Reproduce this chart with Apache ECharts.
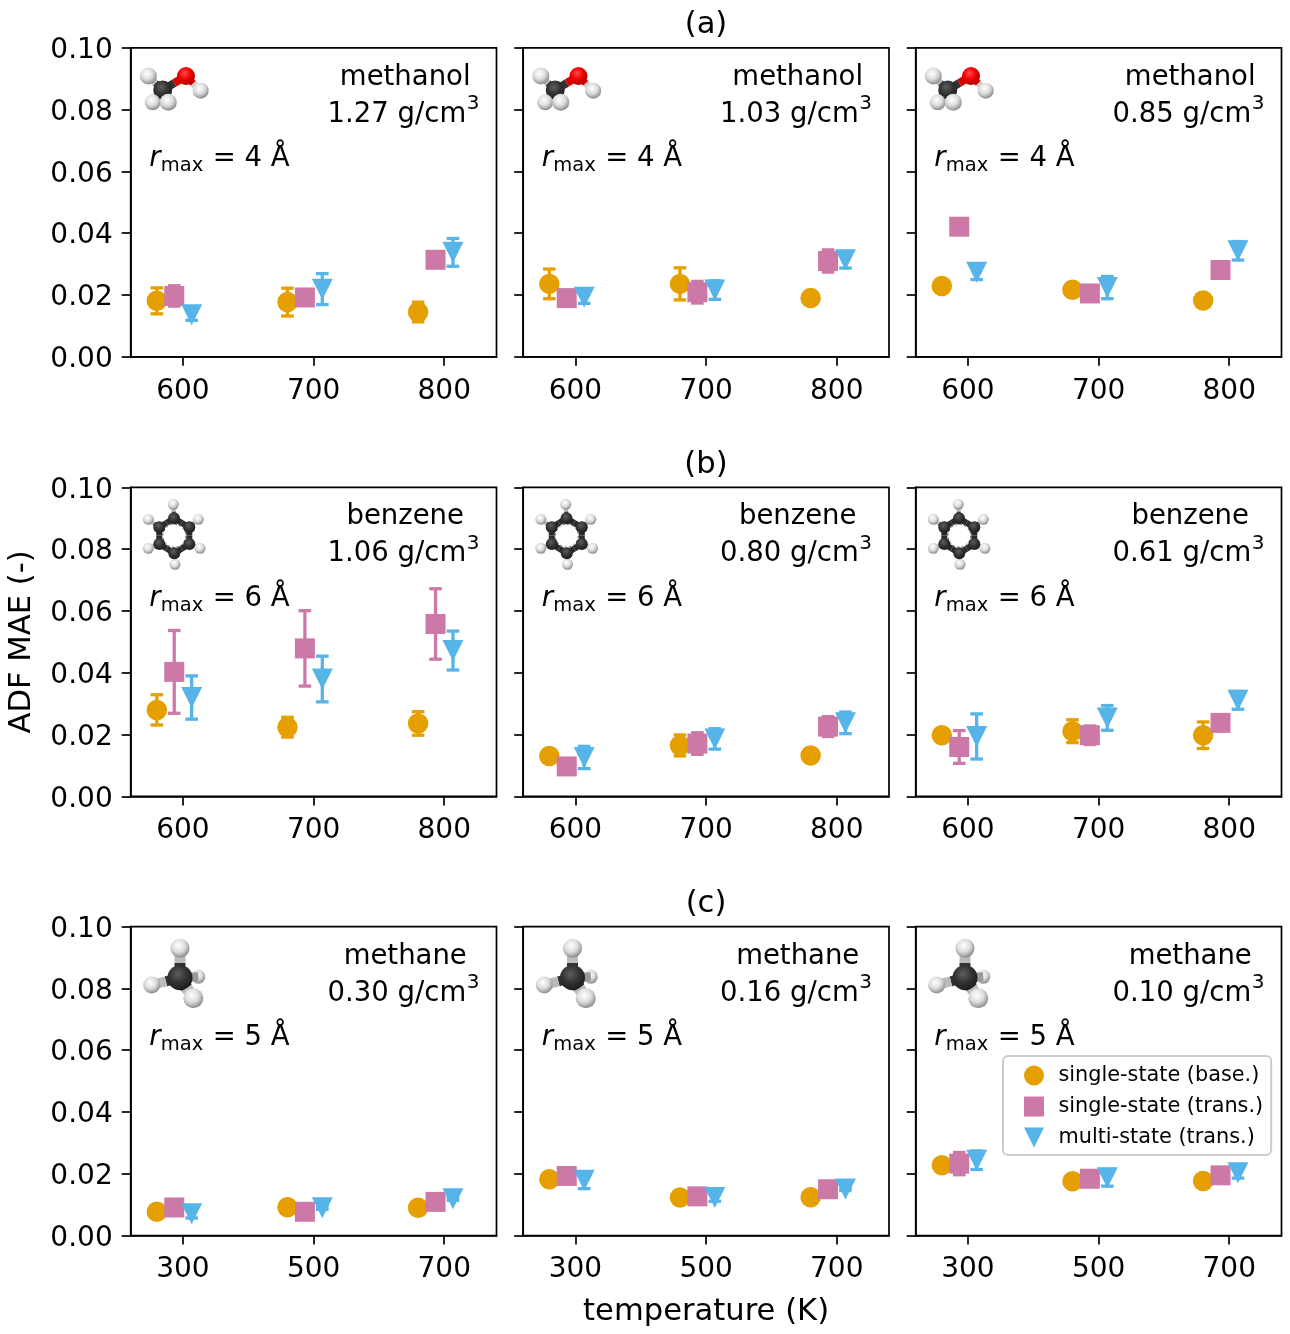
<!DOCTYPE html>
<html><head><meta charset="utf-8">
<style>html,body{margin:0;padding:0;background:#fff}#c{width:1290px;height:1334px}</style>
<script src="https://cdn.jsdelivr.net/npm/echarts@6/dist/echarts.min.js"></script>
</head><body><div id="c"></div>
<script>
// ---------- data (rows: panels a1,a2,a3,b1,b2,b3,c1,c2,c3; columns: three temperatures) ----------
const tempsHigh = [600, 700, 800];
const tempsLow = [300, 500, 700];
const panelTitles = ['(a)', '(b)', '(c)'];
const molecules = ['methanol', 'benzene', 'methane'];
const densities = ['1.27', '1.03', '0.85', '1.06', '0.80', '0.61', '0.30', '0.16', '0.10'];
const rmaxValues = [4, 6, 5];
const seriesNames = ['single-state (base.)', 'single-state (trans.)', 'multi-state (trans.)'];

const baseMean = [
  [0.0181, 0.0177, 0.0145], [0.0236, 0.0236, 0.0190], [0.0229, 0.0217, 0.0182],
  [0.0280, 0.0224, 0.0236], [0.0131, 0.0165, 0.0132], [0.0198, 0.0211, 0.0198],
  [0.0077, 0.0092, 0.0090], [0.0182, 0.0123, 0.0124], [0.0228, 0.0176, 0.0177]];
const baseErr = [
  [0.0042, 0.0045, 0.0032], [0.0048, 0.0052, 0], [0, 0, 0],
  [0.0049, 0.0032, 0.0038], [0, 0.0034, 0], [0, 0.0037, 0.0043],
  [0, 0, 0], [0, 0, 0], [0, 0, 0]];
const transMean = [
  [0.0197, 0.0192, 0.0314], [0.0190, 0.0209, 0.0310], [0.0421, 0.0205, 0.0281],
  [0.0403, 0.0479, 0.0558], [0.0097, 0.0171, 0.0226], [0.0160, 0.0198, 0.0238],
  [0.0091, 0.0077, 0.0109], [0.0193, 0.0127, 0.0150], [0.0233, 0.0184, 0.0195]];
const transErr = [
  [0.0033, 0, 0], [0, 0.0035, 0.0036], [0, 0, 0],
  [0.0134, 0.0122, 0.0114], [0, 0.0035, 0.0032], [0.0053, 0.0030, 0],
  [0, 0, 0], [0, 0, 0], [0.0036, 0, 0]];
const multiMean = [
  [0.0136, 0.0219, 0.0338], [0.0193, 0.0216, 0.0314], [0.0274, 0.0224, 0.0343],
  [0.0320, 0.0380, 0.0472], [0.0126, 0.0186, 0.0238], [0.0194, 0.0254, 0.0311],
  [0.0071, 0.0090, 0.0119], [0.0179, 0.0123, 0.0151], [0.0244, 0.0187, 0.0203]];
const multiErr = [
  [0.0018, 0.0050, 0.0045], [0.0020, 0.0030, 0.0027], [0.0024, 0.0036, 0.0030],
  [0.0070, 0.0074, 0.0063], [0.0036, 0.0033, 0.0035], [0.0073, 0.0040, 0.0029],
  [0.0014, 0.0005, 0.0005], [0.0027, 0.0012, 0.0005], [0.0030, 0.0027, 0.0017]];
const offsetsHigh = [-20, -6.67, 6.67];
const offsetsLow = [-40, -13.33, 13.33];

// ---------- style / layout ----------
const FONT = '"DejaVu Sans"';
const FS = 28, FS_PANEL = 27.5, FS_TITLE = 30.6;
const colors = ['#E69F00', '#CC79A7', '#56B4E9'];
const symbols = ['circle', 'path://M0 0L10 0L10 10L0 10Z', 'path://M0 0L10 0L5 10Z'];
const symbolSizes = [20.5, 20, 21];
const gridLefts = [130.7, 523.2, 915.7];
const gridTops = [47.8, 487.4, 926.6];
const GW = 365.8, GH = 309;
const means = [baseMean, transMean, multiMean];
const errs = [baseErr, transErr, multiErr];

const grids = [], xAxes = [], yAxes = [], series = [], graphics = [];

function errRender(params, api) {
  const x = api.value(0), m = api.value(1), e = api.value(2);
  if (!e) return null;
  const color = api.style().fill;
  const top = api.coord([x, m + e]), bot = api.coord([x, m - e]);
  const ls = { stroke: color, lineWidth: 3.3, fill: null };
  const cap = 6.3;
  return { type: 'group', silent: true, children: [
    { type: 'line', shape: { x1: top[0], y1: top[1], x2: bot[0], y2: bot[1] }, style: ls },
    { type: 'line', shape: { x1: top[0] - cap, y1: top[1], x2: top[0] + cap, y2: top[1] }, style: ls },
    { type: 'line', shape: { x1: bot[0] - cap, y1: bot[1], x2: bot[0] + cap, y2: bot[1] }, style: ls }
  ]};
}

// ---------- decorative molecule pictures ----------
function atom(dx, x, y, rad, kind) {
  const stops = {
    H: [[0, '#ffffff'], [0.5, '#dcdcdc'], [1, '#7d7d7d']],
    C: [[0, '#5e5e5e'], [0.5, '#333333'], [1, '#1a1a1a']],
    O: [[0, '#ff4a4a'], [0.5, '#ee0000'], [1, '#a80000']]
  }[kind].map(s => ({ offset: s[0], color: s[1] }));
  graphics.push({ type: 'circle', z: 9, silent: true, shape: { cx: x + dx, cy: y, r: rad },
    style: { fill: new echarts.graphic.RadialGradient(0.42, 0.35, 0.7, stops) } });
}
function bond(dx, a, b, w, c1, c2) {
  const mx = (a[0] + b[0]) / 2, my = (a[1] + b[1]) / 2;
  graphics.push({ type: 'line', z: 9, silent: true, shape: { x1: a[0] + dx, y1: a[1], x2: mx + dx, y2: my }, style: { stroke: c1, lineWidth: w } });
  graphics.push({ type: 'line', z: 9, silent: true, shape: { x1: mx + dx, y1: my, x2: b[0] + dx, y2: b[1] }, style: { stroke: c2 || c1, lineWidth: w } });
}
function drawMolecule(r, dx) {
  if (r === 0) {
    const C = [162.7, 90], O = [186, 76], H1 = [148.3, 76], H2 = [200.7, 90.7], H3 = [152.7, 102.3], H4 = [168.3, 102.3];
    bond(dx, C, H1, 7, '#333', '#bbb'); bond(dx, C, O, 8, '#333', '#d00'); bond(dx, O, H2, 7, '#d00', '#ccc');
    bond(dx, C, H3, 6, '#333', '#bbb'); bond(dx, C, H4, 6, '#333', '#bbb');
    atom(dx, H1[0], H1[1], 8.5, 'H'); atom(dx, C[0], C[1], 9.5, 'C'); atom(dx, H3[0], H3[1], 8, 'H');
    atom(dx, H4[0], H4[1], 8.5, 'H'); atom(dx, H2[0], H2[1], 8, 'H'); atom(dx, O[0], O[1], 9, 'O');
  } else if (r === 1) {
    const Cs = [[174, 518.3], [189.3, 527.3], [189.3, 544], [174.3, 553.3], [159.3, 544], [159.3, 527.3]];
    const Hs = [[173.3, 504.3], [198.3, 519.3], [200, 548.3], [175, 564.3], [148.3, 548.3], [148.3, 519.3]];
    Cs.forEach((p, i) => { bond(dx, p, Cs[(i + 1) % 6], 6, '#2b2b2b'); bond(dx, p, Hs[i], 4, '#444', '#bbb'); });
    graphics.push({ type: 'circle', z: 9, silent: true, shape: { cx: 174.3 + dx, cy: 535.7, r: 11.5 },
      style: { fill: null, stroke: '#555', lineWidth: 0.9, lineDash: [2.5, 2] } });
    Hs.forEach(p => atom(dx, p[0], p[1], 5.5, 'H'));
    Cs.forEach(p => atom(dx, p[0], p[1], 6, 'C'));
  } else {
    const C = [180, 977.7], Ht = [180, 948.3], Hl = [151.7, 985], Hr = [198.3, 976.7], Hb = [193.3, 998.3];
    atom(dx, Hr[0], Hr[1], 7, 'H');
    bond(dx, C, Hr, 9, '#333', '#999');
    bond(dx, C, Ht, 11, '#333', '#bbb'); bond(dx, C, Hl, 10, '#333', '#bbb'); bond(dx, C, Hb, 12, '#333', '#bbb');
    atom(dx, C[0], C[1], 12.5, 'C'); atom(dx, Ht[0], Ht[1], 9.5, 'H'); atom(dx, Hl[0], Hl[1], 8.5, 'H'); atom(dx, Hb[0], Hb[1], 10, 'H');
  }
}

for (let r = 0; r < 3; r++) for (let c = 0; c < 3; c++) {
  const p = r * 3 + c;
  const temps = r < 2 ? tempsHigh : tempsLow;
  const offs = r < 2 ? offsetsHigh : offsetsLow;
  grids.push({ left: gridLefts[c], top: gridTops[r], width: GW, height: GH, show: true,
    borderColor: '#000', borderWidth: 1.7, backgroundColor: 'transparent' });
  xAxes.push({ gridIndex: p, type: 'value', min: r < 2 ? 560 : 220, max: r < 2 ? 840 : 780,
    splitLine: { show: false },
    axisLine: { show: true, onZero: false, lineStyle: { color: '#000', width: 1.7 } },
    axisTick: { show: true, length: 9, lineStyle: { color: '#000', width: 1.7 }, customValues: temps },
    axisLabel: { show: true, color: '#000', fontFamily: FONT, fontSize: FS, margin: 20.5, customValues: temps, showMinLabel: true, showMaxLabel: true },
    ...(r === 2 && c === 1 ? { name: 'temperature (K)', nameLocation: 'middle', nameGap: 60.5,
      nameTextStyle: { color: '#000', fontFamily: FONT, fontSize: FS_TITLE } } : {})
  });
  yAxes.push({ gridIndex: p, type: 'value', min: 0, max: 0.1, interval: 0.02,
    splitLine: { show: false },
    axisLine: { show: true, onZero: false, lineStyle: { color: '#000', width: 1.7 } },
    axisTick: { show: true, length: 9, lineStyle: { color: '#000', width: 1.7 } },
    axisLabel: { show: c === 0, margin: 18, formatter: v => '{v|' + v.toFixed(2) + '}',
      rich: { v: { color: '#000', fontFamily: FONT, fontSize: FS, padding: [6, 0, 0, 0] } } },
    ...(r === 1 && c === 0 ? { name: 'ADF MAE (-)', nameLocation: 'middle', nameGap: 93,
      nameTextStyle: { color: '#000', fontFamily: FONT, fontSize: FS_TITLE } } : {})
  });
  for (let m = 0; m < 3; m++) {
    const rows = temps.map((t, i) => [t + offs[m], means[m][p][i], errs[m][p][i]]);
    series.push({ type: 'custom', name: 'err-' + m + '-' + p, xAxisIndex: p, yAxisIndex: p, z: 3 + 2 * m,
      clip: false, silent: true, itemStyle: { color: colors[m] }, renderItem: errRender,
      encode: { x: 0, y: 1 }, data: rows, animation: false });
    series.push({ type: 'scatter', name: seriesNames[m], xAxisIndex: p, yAxisIndex: p, z: 4 + 2 * m,
      symbol: symbols[m], symbolSize: symbolSizes[m], symbolKeepAspect: true, clip: false, silent: true,
      itemStyle: { color: colors[m], opacity: 1 }, data: rows.map(d => [d[0], d[1]]), animation: false });
  }
  // ----- panel texts -----
  const L = gridLefts[c];
  const yb = gridTops[r] - 0.6;
  const T = (text, x, y, align, size, extra) => graphics.push({ type: 'text', z: 10, silent: true, style: Object.assign({
    text, x, y, textAlign: align, textVerticalAlign: 'middle', fill: '#000',
    font: (size || FS_PANEL) + 'px ' + FONT }, extra || {}) });
  T(molecules[r], L + 274.5, yb + 30.5, 'center');
  T(densities[p] + ' g/cm', L + 335.5, yb + 67.5, 'right');
  T('3', L + 336, yb + 56.5, 'left', 20);
  T('r', L + 18.5, yb + 112, 'left', FS_PANEL, { font: 'italic ' + FS_PANEL + 'px ' + FONT });
  T('max', L + 30, yb + 119, 'left', 19.5);
  T('= ' + rmaxValues[r] + ' Å', L + 82, yb + 112, 'left');
  // ----- molecule icons -----
  drawMolecule(r, L - 130.7);
}

const chart = echarts.init(document.getElementById('c'), null, { renderer: 'canvas' });
chart.setOption({
  animation: false,
  backgroundColor: '#fff',
  title: panelTitles.map((t, i) => ({ text: t, left: 706, top: gridTops[i] - 38, textAlign: 'center',
    textStyle: { color: '#000', fontFamily: FONT, fontSize: FS_TITLE, fontWeight: 'normal' }, padding: 0 })),
  legend: {
    show: true, data: seriesNames.map((n, i) => ({ name: n, icon: symbols[i] })), orient: 'vertical',
    left: 1003, top: 1056, padding: [9, 8, 7, 21], itemWidth: 39, itemHeight: 20, itemGap: 10,
    symbolKeepAspect: true, selectedMode: false, z: 20,
    backgroundColor: 'rgba(255,255,255,0.8)', borderColor: '#ccc', borderWidth: 2, borderRadius: 5,
    textStyle: { color: '#000', fontFamily: FONT, fontSize: 20.8 }
  },
  grid: grids, xAxis: xAxes, yAxis: yAxes, series,
  graphic: { elements: graphics }
});
</script></body></html>
